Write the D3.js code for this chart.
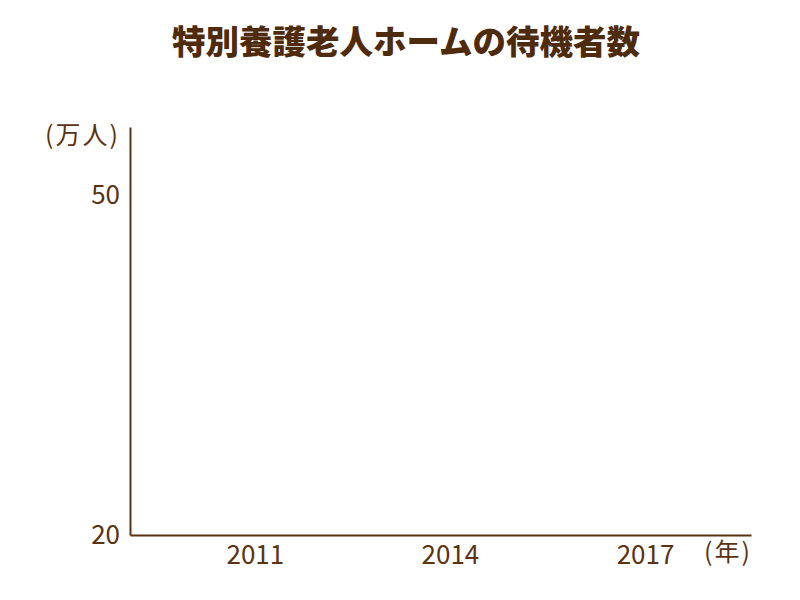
<!DOCTYPE html>
<html><head><meta charset="utf-8">
<script src="https://cdn.jsdelivr.net/npm/d3@7"></script>
<style>body{margin:0;background:#fff;}svg{display:block;}</style>
</head><body>
<svg id="c" width="800" height="600"></svg>
<script>
const title = "特別養護老人ホームの待機者数";
const xTicks = [2011, 2014, 2017];
const yTicks = [20, 50];
const xUnit = "(年)";
const yUnit = "(万人)";

const svg = d3.select("#c");
const col = "#5a3312";
const font = "'Noto Sans CJK JP','Noto Sans',sans-serif";
const x = d3.scaleLinear().domain([2009.08, 2018.63]).range([130, 751]);
const y = d3.scaleLinear().domain([20, 56]).range([535, 127]);

svg.append("text").attr("x", 406).attr("y", 45).attr("text-anchor", "middle")
  .attr("dominant-baseline", "middle").attr("font-family", font).attr("font-weight", 900)
  .attr("font-size", 33.5).attr("fill", "#4e2b0c").text(title);

const xa = svg.append("g").attr("transform", `translate(0,${y(20)})`)
  .call(d3.axisBottom(x).tickValues(xTicks).tickFormat(d3.format("d")).tickSize(0).tickPadding(9));
const ya = svg.append("g").attr("transform", `translate(${x.range()[0]},0)`)
  .call(d3.axisLeft(y).tickValues(yTicks).tickSize(0).tickPadding(10));
[xa, ya].forEach(a => {
  a.select(".domain").attr("stroke", col).attr("stroke-width", 2);
  a.selectAll("text").attr("fill", col).attr("font-family", font).attr("font-size", 26);
});
xa.selectAll("text").attr("dy", "0.75em");

svg.append("text").attr("x", 752).attr("y", 554).attr("text-anchor", "end")
  .attr("dominant-baseline", "middle").attr("font-family", font).attr("font-size", 25)
  .attr("letter-spacing", 2).attr("fill", col).text(xUnit);
svg.append("text").attr("x", 120).attr("y", 137).attr("text-anchor", "end")
  .attr("dominant-baseline", "middle").attr("font-family", font).attr("font-size", 25)
  .attr("letter-spacing", 2).attr("fill", col).text(yUnit);
</script>
</body></html>
